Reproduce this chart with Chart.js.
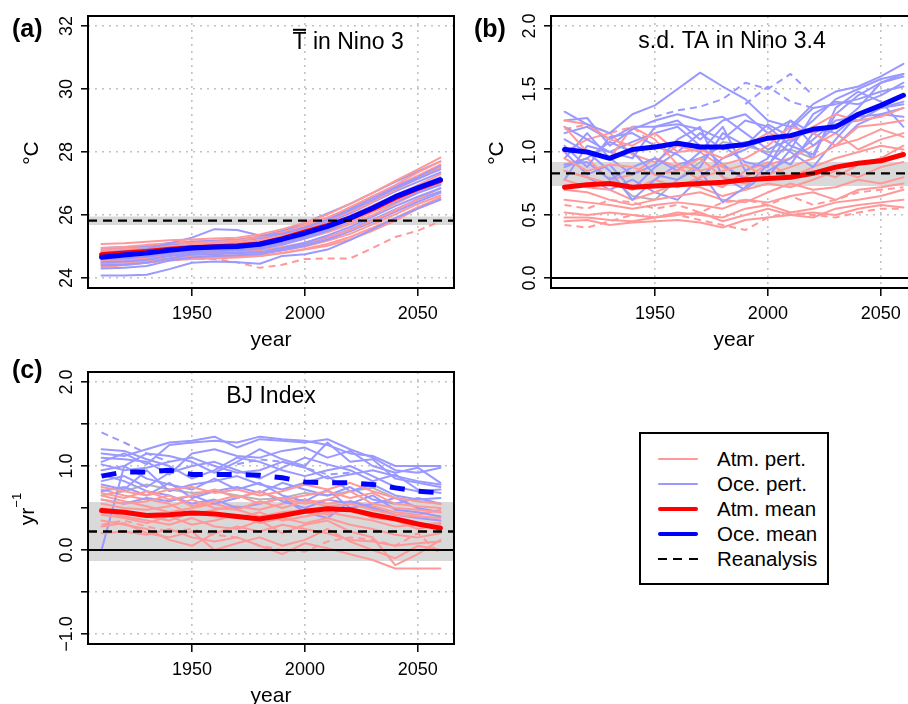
<!DOCTYPE html>
<html><head><meta charset="utf-8">
<script src="https://cdn.jsdelivr.net/npm/chart.js@4.4.1/dist/chart.umd.min.js"></script>
<style>
html,body{margin:0;padding:0;background:#fff;}
#wrap{position:relative;width:908px;height:704px;overflow:hidden;background:#fff;font-family:"Liberation Sans",Arial,Helvetica,sans-serif;}
.pane{position:absolute;width:460px;height:350px;}
.pane canvas{display:block;}
#legend{position:absolute;left:639px;top:432px;width:190px;height:153px;border:2px solid #000;box-sizing:border-box;background:#fff;}
.li{position:absolute;left:17px;width:40px;}
.lt{position:absolute;left:76px;font-size:20.5px;line-height:24px;color:#000;white-space:nowrap;}
</style></head><body>
<div id="wrap">
  <div class="pane" style="left:0;top:0"><canvas id="ca" width="460" height="350"></canvas></div>
  <div class="pane" style="left:460px;top:0"><canvas id="cb" width="460" height="350"></canvas></div>
  <div class="pane" style="left:0;top:356px"><canvas id="cc" width="460" height="350"></canvas></div>
  <div id="legend"></div>
</div>
<script>
// ---------------- data ----------------
const YEARS = [1910,1920,1930,1940,1950,1960,1970,1980,1990,2000,2010,2020,2030,2040,2050,2060];
const X_RANGE = [1904, 2066];
const X_TICKS = [1950, 2000, 2050];
const X_LABELS = ['1950', '2000', '2050'];
const X_TITLE = 'year';

// Panel (a): mean T in Nino 3
const A_Y_RANGE = [23.68, 32.32];
const A_Y_TICKS = [24, 26, 28, 30, 32];
const A_Y_LABELS = ['24', '26', '28', '30', '32'];
const A_BAND = [25.68, 25.95];
const A_REANALYSIS = 25.82;
const A_ATM_MEAN = [24.74,24.79,24.84,24.91,24.96,24.99,25.02,25.08,25.25,25.46,25.66,25.90,26.20,26.55,26.84,27.10];
const A_OCE_MEAN = [24.66,24.73,24.79,24.88,24.95,24.98,25.00,25.07,25.23,25.42,25.64,25.90,26.22,26.58,26.86,27.12];
const A_ATM_PERT = [
  [25.08,25.10,25.15,25.20,25.22,25.25,25.28,25.38,25.55,25.75,26.02,26.35,26.70,27.08,27.45,27.82],
  [24.95,24.98,25.05,25.10,25.12,25.15,25.18,25.30,25.45,25.62,25.90,26.25,26.60,26.95,27.35,27.70],
  [24.85,24.90,24.95,25.00,25.05,25.10,25.12,25.20,25.35,25.55,25.82,26.10,26.42,26.80,27.15,27.50],
  [24.78,24.80,24.85,24.92,24.98,25.00,25.05,25.12,25.28,25.48,25.70,25.98,26.30,26.62,26.95,27.30],
  [24.70,24.72,24.78,24.85,24.90,24.92,24.95,25.00,25.15,25.35,25.55,25.80,26.10,26.45,26.78,27.05],
  [24.62,24.65,24.70,24.78,24.82,24.85,24.88,24.95,25.08,25.25,25.45,25.70,26.00,26.35,26.70,26.98],
  [24.55,24.58,24.62,24.70,24.75,24.80,24.82,24.88,24.98,25.12,25.30,25.52,25.82,26.15,26.50,26.85],
  [24.48,24.50,24.55,24.62,24.68,24.70,24.72,24.78,24.88,25.00,25.18,25.40,25.70,26.02,26.35,26.62],
  [24.42,24.45,24.50,24.58,24.62,24.65,24.68,24.70,24.80,24.92,25.08,25.30,25.60,25.90,26.25,26.55],
  [24.90,24.95,25.00,25.08,25.15,25.18,25.22,25.32,25.48,25.68,25.92,26.20,26.55,26.90,27.25,27.60],
  [24.35,24.40,24.48,24.55,24.60,24.62,24.65,24.70,24.78,24.90,25.02,25.22,25.50,25.82,26.20,26.48]
];
const A_ATM_PERT_DASHED = [
  [24.55,24.55,24.55,24.58,24.60,24.60,24.50,24.32,24.42,24.60,24.62,24.62,24.95,25.30,25.50,25.80]
];
const A_OCE_PERT = [
  [24.08,24.08,24.10,24.28,24.48,24.52,24.50,24.45,24.70,24.75,24.90,25.20,25.55,25.90,26.20,26.50],
  [24.80,24.85,24.92,25.10,25.28,25.55,25.52,25.35,25.40,25.60,25.85,26.15,26.48,26.85,27.15,27.45],
  [24.95,24.98,25.02,25.10,25.15,25.18,25.20,25.30,25.50,25.75,26.05,26.35,26.70,27.05,27.38,27.70],
  [24.70,24.72,24.78,24.85,24.92,24.95,24.98,25.05,25.20,25.42,25.65,25.92,26.25,26.60,26.90,27.20],
  [24.60,24.62,24.68,24.78,24.85,24.90,24.92,24.98,25.12,25.32,25.55,25.85,26.18,26.50,26.82,27.08],
  [24.50,24.52,24.58,24.70,24.80,24.85,24.88,24.92,25.05,25.25,25.50,25.78,26.10,26.40,26.70,26.95],
  [24.40,24.42,24.48,24.62,24.75,24.78,24.80,24.82,24.95,25.12,25.35,25.62,25.95,26.28,26.58,26.85],
  [24.30,24.32,24.38,24.55,24.65,24.70,24.72,24.75,24.88,25.02,25.22,25.48,25.78,26.10,26.42,26.70],
  [24.85,24.88,24.95,25.05,25.12,25.15,25.18,25.25,25.40,25.60,25.88,26.20,26.55,26.90,27.20,27.55],
  [24.55,24.58,24.65,24.75,24.85,24.88,24.90,24.95,25.10,25.30,25.55,25.82,26.12,26.45,26.75,27.00],
  [24.45,24.48,24.52,24.60,24.72,24.75,24.78,24.80,24.92,25.08,25.28,25.55,25.85,26.18,26.50,26.75],
  [24.75,24.78,24.82,24.90,25.00,25.05,25.10,25.18,25.32,25.52,25.78,26.05,26.40,26.75,27.05,27.35]
];

// Panel (b): s.d. TA in Nino 3.4
const B_Y_RANGE = [-0.08, 2.08];
const B_Y_TICKS = [0, 0.5, 1, 1.5, 2];
const B_Y_LABELS = ['0.0', '0.5', '1.0', '1.5', '2.0'];
const B_BAND = [0.73, 0.92];
const B_REANALYSIS = 0.83;
const B_ZERO = 0;
const B_ATM_MEAN = [0.72,0.74,0.75,0.72,0.73,0.74,0.75,0.76,0.78,0.79,0.80,0.83,0.88,0.91,0.93,0.98];
const B_OCE_MEAN = [1.02,1.00,0.95,1.02,1.04,1.07,1.04,1.04,1.06,1.11,1.13,1.18,1.20,1.30,1.37,1.45];
const B_ATM_PERT = [
  [1.25,1.22,1.10,1.05,1.15,1.00,1.02,0.95,1.05,1.15,1.10,1.20,1.30,1.25,1.28,1.35],
  [1.20,1.00,0.95,1.20,1.10,0.90,0.85,0.90,0.95,1.05,1.20,1.15,1.05,1.20,1.22,1.25],
  [0.95,0.85,0.90,0.88,0.82,0.85,0.95,0.80,0.75,0.82,0.88,0.95,1.05,1.10,1.18,1.12],
  [0.85,0.80,0.75,0.70,0.78,0.72,0.80,0.85,0.90,0.78,0.82,0.85,0.80,0.90,0.95,1.05],
  [0.78,0.72,0.70,0.62,0.68,0.75,0.72,0.65,0.70,0.75,0.72,0.78,0.85,0.80,0.88,0.92],
  [0.70,0.68,0.62,0.58,0.62,0.65,0.68,0.62,0.60,0.68,0.75,0.70,0.72,0.78,0.75,0.80],
  [0.62,0.60,0.58,0.55,0.58,0.60,0.58,0.55,0.62,0.60,0.65,0.68,0.62,0.70,0.72,0.75],
  [0.52,0.50,0.52,0.50,0.48,0.52,0.50,0.48,0.55,0.58,0.52,0.55,0.60,0.62,0.65,0.70],
  [0.48,0.48,0.46,0.45,0.48,0.50,0.52,0.45,0.50,0.55,0.50,0.48,0.55,0.58,0.60,0.62],
  [0.45,0.46,0.42,0.44,0.45,0.46,0.44,0.40,0.46,0.48,0.50,0.52,0.50,0.55,0.58,0.56],
  [1.00,1.10,1.15,0.98,0.92,1.05,1.00,0.88,0.80,0.90,0.95,1.05,1.15,1.02,1.10,1.15],
  [0.90,0.95,0.78,0.82,0.95,0.88,0.78,0.72,0.85,0.92,0.80,0.88,0.95,1.00,1.05,1.02]
];
const B_ATM_PERT_DASHED = [
  [0.42,0.40,0.45,0.50,0.48,0.50,0.46,0.42,0.38,0.48,0.52,0.50,0.48,0.52,0.55,0.55],
  [0.58,0.55,0.62,0.60,0.55,0.58,0.52,0.60,0.62,0.58,0.65,0.58,0.62,0.68,0.70,0.72],
  [1.18,1.22,1.15,1.20,1.05,0.98,null,null,null,null,null,null,null,null,null,null]
];
const B_OCE_PERT = [
  [1.32,1.22,1.15,1.30,1.37,1.50,1.63,1.52,1.42,1.25,1.20,1.38,1.48,1.52,1.60,1.70],
  [1.25,1.27,1.05,1.18,1.25,1.30,1.25,1.28,1.15,1.02,1.10,1.25,1.42,1.50,1.58,1.62],
  [1.20,1.10,1.00,0.95,1.20,1.22,1.18,1.10,1.25,1.20,1.05,0.98,1.30,1.45,1.55,1.60],
  [1.10,1.00,0.85,0.62,0.78,0.90,0.95,1.05,0.92,0.88,1.18,1.35,1.38,1.42,1.48,1.52],
  [1.05,0.88,1.12,1.15,1.05,0.98,0.85,0.60,0.72,0.90,1.08,1.20,1.15,1.30,1.38,1.45],
  [0.95,1.15,0.95,0.82,0.90,1.10,1.20,0.80,0.70,0.85,0.95,1.10,1.25,1.28,1.30,1.35],
  [0.90,0.92,0.78,0.88,0.95,0.85,1.00,1.20,0.85,0.95,1.25,1.15,1.05,1.22,1.30,1.28],
  [0.85,0.80,0.70,0.78,0.68,0.62,0.80,0.95,1.02,1.12,1.00,0.88,1.10,1.30,1.35,1.40],
  [0.78,1.05,1.00,1.08,1.15,1.20,1.05,0.90,0.78,0.80,1.02,1.30,1.40,1.38,1.45,1.55],
  [1.15,1.20,1.10,1.20,1.20,1.25,1.10,1.25,1.30,1.15,1.25,1.05,1.20,1.35,1.55,1.62],
  [0.88,0.95,1.08,1.00,0.82,0.78,0.88,1.15,1.05,1.22,1.12,0.95,1.35,1.48,1.40,1.20],
  [1.00,0.82,0.90,0.70,0.88,1.00,1.15,1.02,1.08,0.98,0.90,1.15,1.22,1.25,1.35,1.38]
];
const B_OCE_PERT_DASHED = [
  [null,null,null,null,1.28,1.33,1.36,1.42,1.55,1.50,1.62,1.45,null,null,null,null],
  [null,null,null,null,null,null,null,null,1.38,1.52,1.40,1.35,null,null,null,null]
];
const B_GREY = [null,null,0.80,0.65,0.62,0.78,0.92,1.08,1.05,1.00,1.02,0.95,null,null,null,null];

// Panel (c): BJ index
const C_Y_RANGE = [-1.12, 2.12];
const C_Y_TICKS = [-1, -0.5, 0, 0.5, 1, 1.5, 2];
const C_Y_LABELS = ['\u22121.0', '', '0.0', '', '1.0', '', '2.0'];
const C_BAND = [-0.13, 0.57];
const C_REANALYSIS = 0.22;
const C_ZERO = 0;
const C_ATM_MEAN = [0.47,0.45,0.41,0.42,0.44,0.43,0.40,0.37,0.41,0.46,0.49,0.48,0.42,0.37,0.31,0.26];
const C_OCE_MEAN = [0.88,0.93,0.93,0.95,0.90,0.90,0.90,0.89,0.86,0.81,0.80,0.80,0.78,0.74,0.70,0.68];
const C_ATM_PERT = [
  [0.75,0.70,0.65,0.72,0.75,0.68,0.72,0.65,0.70,0.78,0.72,0.80,0.70,0.62,0.58,0.55],
  [0.68,0.62,0.70,0.60,0.65,0.72,0.62,0.70,0.60,0.65,0.70,0.62,0.68,0.55,0.52,0.50],
  [0.60,0.55,0.58,0.65,0.52,0.58,0.65,0.55,0.62,0.55,0.60,0.70,0.55,0.50,0.48,0.45],
  [0.55,0.50,0.48,0.52,0.60,0.50,0.48,0.58,0.50,0.58,0.52,0.55,0.48,0.42,0.40,0.38],
  [0.50,0.45,0.40,0.35,0.45,0.40,0.38,0.45,0.35,0.40,0.45,0.40,0.35,0.28,0.30,0.32],
  [0.42,0.38,0.32,0.40,0.30,0.35,0.42,0.32,0.38,0.32,0.38,0.30,0.25,0.18,0.15,0.20],
  [0.35,0.30,0.25,0.12,0.05,0.20,0.28,0.22,0.30,0.25,0.20,0.12,0.10,0.05,0.08,0.10],
  [0.28,0.32,0.20,0.15,0.22,0.00,0.08,0.15,0.05,0.12,0.25,0.10,0.00,-0.10,0.05,0.00],
  [0.20,0.22,0.18,0.25,0.15,0.10,0.15,0.05,-0.05,0.08,0.02,-0.05,-0.12,-0.22,-0.22,-0.22],
  [0.45,0.40,0.35,0.30,0.38,0.28,0.25,0.35,0.20,0.30,0.35,0.22,0.15,-0.18,-0.05,0.12],
  [0.65,0.58,0.52,0.45,0.50,0.55,0.48,0.40,0.45,0.48,0.42,0.50,0.38,0.35,0.25,0.30],
  [0.72,0.65,0.60,0.55,0.42,0.48,0.52,0.48,0.55,0.60,0.55,0.58,0.52,0.45,0.42,0.48]
];
const C_ATM_PERT_DASHED = [
  [0.30,0.35,0.28,0.22,0.25,0.18,0.15,0.05,0.00,-0.02,0.10,0.15,0.12,0.05,0.20,-0.05]
];
const C_OCE_PERT = [
  [1.15,1.12,1.20,1.28,1.30,1.35,1.22,1.32,1.30,1.28,1.32,1.20,1.10,0.95,0.92,0.98],
  [1.05,1.15,1.02,1.25,1.28,1.30,1.28,1.35,1.32,1.30,1.25,1.15,1.12,1.00,1.00,1.00],
  [1.10,1.08,1.05,0.90,1.15,1.20,1.12,1.10,1.18,1.22,1.10,1.18,1.00,0.92,0.98,0.80],
  [0.95,1.00,1.15,1.12,1.05,0.92,1.05,1.20,1.08,1.00,1.28,1.05,1.08,0.85,0.80,0.75],
  [0.82,0.88,0.75,0.92,1.00,1.05,0.95,0.85,0.98,1.10,1.02,0.95,0.82,0.90,0.72,0.68],
  [0.78,0.72,0.95,0.70,0.78,0.82,0.88,0.78,0.72,0.80,0.88,0.70,0.78,0.65,0.60,0.62],
  [0.70,0.75,0.65,0.80,0.62,0.70,0.75,0.68,0.80,0.72,0.65,0.75,0.60,0.55,0.62,0.55],
  [0.60,0.55,0.62,0.58,0.65,0.55,0.62,0.70,0.58,0.50,0.60,0.55,0.65,0.48,0.45,0.40],
  [1.20,1.18,1.08,1.00,0.85,0.95,1.10,1.05,0.95,0.88,0.95,1.00,0.88,0.75,0.70,0.72],
  [0.00,1.00,0.85,0.78,0.72,0.85,0.72,0.80,0.65,0.58,0.72,0.50,0.55,0.62,0.50,0.45],
  [0.90,0.82,0.70,0.65,0.55,0.60,0.50,0.55,0.62,0.45,0.38,0.58,0.50,0.42,0.38,0.35],
  [1.02,0.95,0.98,1.05,1.10,1.00,0.92,0.95,1.05,0.98,0.85,0.90,0.95,0.88,0.82,0.78]
];
const C_OCE_PERT_DASHED = [
  [1.40,1.28,1.15,1.05,null,null,null,null,null,null,null,null,null,null,null,null],
  [null,null,null,null,null,null,1.02,1.08,1.05,0.98,0.90,0.92,null,null,null,null]
];
const C_GREY = [0.65,0.70,0.78,0.72,0.68,0.70,0.65,0.60,0.62,0.68,0.65,0.70,0.74,0.62,0.58,0.55];

// ---------------- styling ----------------
const FONT = '"Liberation Sans", Arial, Helvetica, sans-serif';
const PINK = '#ff9999', LBLUE = '#9999ff', RED = '#ff0000', BLUE = '#0000ff';
const BAND_COLOR = '#d9d9d9', GRID = '#c2c2c2', GREY_LINE = '#b4b4b4';
const PERT_W = 2, MEAN_W = 5;

function series(vals, color, width, dash, order) {
  return {
    data: vals.map((v, i) => ({x: YEARS[i], y: v})),
    borderColor: color, backgroundColor: color, borderWidth: width, borderDash: dash,
    pointRadius: 0, pointHoverRadius: 0, fill: false, tension: 0, order: order,
    spanGaps: false, borderCapStyle: dash.length ? 'butt' : 'round', borderJoinStyle: 'round'
  };
}
function level(v, color, width, dash, order) {
  return {
    data: X_RANGE.map(x => ({x: x, y: v})),
    borderColor: color, borderWidth: width, borderDash: dash, pointRadius: 0, fill: false,
    tension: 0, order: order, borderCapStyle: 'butt'
  };
}
function band(lohi, order) {
  return {
    data: X_RANGE.map(x => ({x: x, y: lohi[1]})),
    borderWidth: 0, borderColor: 'rgba(0,0,0,0)', backgroundColor: BAND_COLOR,
    pointRadius: 0, fill: {value: lohi[0]}, order: order
  };
}
function perts(atm, atmD, oce, oceD) {
  const out = [];
  const n = Math.max(atm.length, oce.length);
  for (let i = 0; i < n; i++) {
    if (oce[i]) out.push(series(oce[i], LBLUE, PERT_W, [], 50));
    if (atm[i]) out.push(series(atm[i], PINK, PERT_W, [], 50));
  }
  atmD.forEach(v => out.push(series(v, PINK, PERT_W, [7, 5], 50)));
  oceD.forEach(v => out.push(series(v, LBLUE, PERT_W, [7, 5], 50)));
  return out;
}

function decor(cfg) {
  return {
    id: 'decor',
    afterDraw(chart) {
      const ctx = chart.ctx, a = chart.chartArea, ys = chart.scales.y, xs = chart.scales.x;
      ctx.save();
      // box
      ctx.strokeStyle = '#000'; ctx.lineWidth = 2; ctx.setLineDash([]);
      ctx.strokeRect(a.left, a.top, a.right - a.left, a.bottom - a.top);
      ctx.fillStyle = '#000';
      // x tick labels
      ctx.font = '18px ' + FONT;
      ctx.textAlign = 'center'; ctx.textBaseline = 'alphabetic';
      X_TICKS.forEach((v, i) => ctx.fillText(X_LABELS[i], xs.getPixelForValue(v), a.bottom + 31));
      // x title
      ctx.font = '21px ' + FONT;
      ctx.fillText(X_TITLE, (a.left + a.right) / 2, a.bottom + 57.5);
      // y tick labels (rotated, like R)
      ctx.font = '18px ' + FONT;
      cfg.yTicks.forEach((v, i) => {
        const lab = cfg.yLabels[i]; if (!lab) return;
        const py = ys.getPixelForValue(v);
        ctx.save(); ctx.translate(a.left - 16.3, py); ctx.rotate(-Math.PI / 2);
        ctx.fillText(lab, 0, 0); ctx.restore();
      });
      // y title
      const cy = (a.top + a.bottom) / 2 + 1;
      ctx.save(); ctx.translate(cfg.yTitleX, cy); ctx.rotate(-Math.PI / 2);
      ctx.font = '21px ' + FONT; ctx.textAlign = 'left';
      const w1 = ctx.measureText(cfg.yTitle).width;
      let w2 = 0;
      if (cfg.ySup) { ctx.font = '13px ' + FONT; w2 = ctx.measureText(cfg.ySup).width; }
      const x0 = -(w1 + w2) / 2;
      ctx.font = '21px ' + FONT; ctx.fillText(cfg.yTitle, x0, 0);
      if (cfg.ySup) { ctx.font = '13px ' + FONT; ctx.fillText(cfg.ySup, x0 + w1, -13); }
      ctx.restore();
      // panel letter
      ctx.font = 'bold 25px ' + FONT; ctx.textAlign = 'left';
      ctx.fillText(cfg.letter, cfg.letterX, cfg.letterY);
      // panel title
      ctx.font = '23px ' + FONT; ctx.textAlign = cfg.titleAlign;
      ctx.fillText(cfg.title, cfg.titleX, cfg.titleY);
      if (cfg.overline) {
        const wT = ctx.measureText('T').width;
        ctx.fillRect(cfg.titleX + 0.5, cfg.titleY - 20.5, wT - 1, 2);
      }
      ctx.restore();
    }
  };
}

function makeChart(id, cfg) {
  const datasets = [];
  datasets.push(level(cfg.reanalysis, '#000', 2.4, [9, 6], 5));
  if (cfg.zero !== undefined) datasets.push(level(cfg.zero, '#000', 2, [], 2));
  datasets.push(cfg.oceMean);
  datasets.push(cfg.atmMean);
  if (cfg.grey) datasets.push(series(cfg.grey, GREY_LINE, PERT_W, [], 55));
  perts(cfg.atm, cfg.atmD, cfg.oce, cfg.oceD).forEach(d => datasets.push(d));
  datasets.push(band(cfg.band, 100));

  return new Chart(document.getElementById(id), {
    type: 'line',
    data: {datasets: datasets},
    options: {
      responsive: false, animation: false, events: [],
      layout: {padding: {left: 0, right: cfg.padRight, top: 16, bottom: 0}},
      plugins: {legend: {display: false}, tooltip: {enabled: false}},
      scales: {
        x: {
          type: 'linear', min: X_RANGE[0], max: X_RANGE[1],
          afterBuildTicks: s => { s.ticks = X_TICKS.map(v => ({value: v})); },
          afterFit: s => { s.height = 62; },
          ticks: {display: false},
          grid: {color: GRID, lineWidth: 1.6, tickLength: 8, tickColor: '#000', tickWidth: 1.5, tickBorderDash: []},
          border: {display: false, dash: [2, 5]}
        },
        y: {
          type: 'linear', min: cfg.yRange[0], max: cfg.yRange[1],
          afterBuildTicks: s => { s.ticks = cfg.yTicks.map(v => ({value: v})); },
          afterFit: s => { s.width = cfg.yWidth; },
          ticks: {display: false},
          grid: {color: GRID, lineWidth: 1.6, tickLength: 7, tickColor: '#000', tickWidth: 1.5, tickBorderDash: []},
          border: {display: false, dash: [2, 5]}
        }
      }
    },
    plugins: [decor(cfg)]
  });
}

makeChart('ca', {
  yRange: A_Y_RANGE, yTicks: A_Y_TICKS, yLabels: A_Y_LABELS, yWidth: 88, padRight: 6,
  band: A_BAND, reanalysis: A_REANALYSIS,
  oceMean: series(A_OCE_MEAN, BLUE, MEAN_W, [], 9), atmMean: series(A_ATM_MEAN, RED, MEAN_W, [], 10),
  atm: A_ATM_PERT, atmD: A_ATM_PERT_DASHED, oce: A_OCE_PERT, oceD: [],
  letter: '(a)', letterX: 12, letterY: 36.5, yTitle: '\u00B0C', yTitleX: 37.5,
  title: 'T in Nino 3', titleX: 292.5, titleY: 49.3, titleAlign: 'left', overline: true
});
makeChart('cb', {
  yRange: B_Y_RANGE, yTicks: B_Y_TICKS, yLabels: B_Y_LABELS, yWidth: 91, padRight: 3,
  band: B_BAND, reanalysis: B_REANALYSIS, zero: B_ZERO, grey: B_GREY,
  oceMean: series(B_OCE_MEAN, BLUE, MEAN_W, [], 9), atmMean: series(B_ATM_MEAN, RED, MEAN_W, [], 10),
  atm: B_ATM_PERT, atmD: B_ATM_PERT_DASHED, oce: B_OCE_PERT, oceD: B_OCE_PERT_DASHED,
  letter: '(b)', letterX: 14, letterY: 36.5, yTitle: '\u00B0C', yTitleX: 43,
  title: 's.d. TA in Nino 3.4', titleX: 272, titleY: 48.3, titleAlign: 'center'
});
makeChart('cc', {
  yRange: C_Y_RANGE, yTicks: C_Y_TICKS, yLabels: C_Y_LABELS, yWidth: 88, padRight: 6,
  band: C_BAND, reanalysis: C_REANALYSIS, zero: C_ZERO, grey: C_GREY,
  oceMean: series(C_OCE_MEAN, BLUE, MEAN_W, [15, 14], 9), atmMean: series(C_ATM_MEAN, RED, MEAN_W, [], 10),
  atm: C_ATM_PERT, atmD: C_ATM_PERT_DASHED, oce: C_OCE_PERT, oceD: C_OCE_PERT_DASHED,
  letter: '(c)', letterX: 12, letterY: 22, yTitle: 'yr', ySup: '\u22121', yTitleX: 33.6,
  title: 'BJ Index', titleX: 271, titleY: 47, titleAlign: 'center'
});

// ---------------- legend ----------------
const LEGEND_ITEMS = [
  {label: 'Atm. pert.', color: PINK, width: 2, dashed: false},
  {label: 'Oce. pert.', color: LBLUE, width: 2, dashed: false},
  {label: 'Atm. mean', color: RED, width: 4.2, dashed: false},
  {label: 'Oce. mean', color: BLUE, width: 4.2, dashed: false},
  {label: 'Reanalysis', color: '#000', width: 2.4, dashed: true}
];
const legend = document.getElementById('legend');
LEGEND_ITEMS.forEach((it, i) => {
  const cy = 25 + i * 25;
  const ln = document.createElement('div');
  ln.className = 'li';
  ln.style.top = (cy - it.width / 2) + 'px';
  ln.style.height = it.width + 'px';
  if (it.dashed) {
    ln.style.background = 'repeating-linear-gradient(to right,#000 0 9px,transparent 9px 15.5px)';
  } else {
    ln.style.background = it.color;
    ln.style.borderRadius = (it.width / 2) + 'px';
  }
  legend.appendChild(ln);
  const t = document.createElement('div');
  t.className = 'lt';
  t.style.top = (cy - 12.5) + 'px';
  t.textContent = it.label;
  legend.appendChild(t);
});
</script>
</body></html>
